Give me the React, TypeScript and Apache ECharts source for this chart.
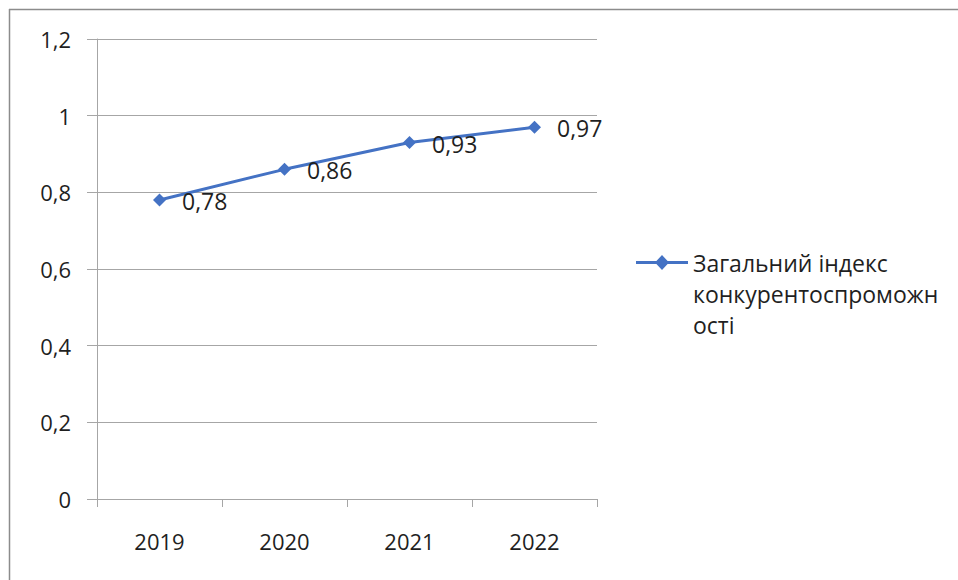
import React, { useEffect, useRef } from "react";
import * as echarts from "echarts";

const years = ["2019", "2020", "2021", "2022"];
const indexValues = [0.78, 0.86, 0.93, 0.97];
const seriesName = "Загальний індекс\nконкурентоспроможн\nості";
const yTicks = { min: 0, max: 1.2, interval: 0.2 };

const BLUE = "#4472C4";
const GRID = "#a6a6a6";
const TEXT = "#1f1f1f";
const FONT = "'Open Sans', 'Noto Sans', sans-serif";

const comma = (v: number) => String(Math.round(v * 100) / 100).replace(".", ",");

// Legend icon: line with a diamond, placed at the height of the first text line
const legendIcon =
  "path://M0 0 M52 93 M0 14 L52 14 L52 17 L0 17 Z M26 8 L33 15.5 L26 23 L19 15.5 Z";

export default function App() {
  const ref = useRef<HTMLDivElement>(null);

  useEffect(() => {
    if (!ref.current) return;
    const chart = echarts.init(ref.current, null, { renderer: "svg" });
    chart.setOption({
      animation: false,
      backgroundColor: "#ffffff",
      textStyle: { fontFamily: FONT },
      grid: { left: 97, top: 39, width: 500, height: 460 },
      graphic: [
        {
          type: "line",
          shape: { x1: 9, y1: 9.5, x2: 958, y2: 9.5 },
          style: { stroke: "#8c8c8c", lineWidth: 1.5 },
        },
        {
          type: "line",
          shape: { x1: 9.5, y1: 9, x2: 9.5, y2: 580 },
          style: { stroke: "#8c8c8c", lineWidth: 1.5 },
        },
      ],
      legend: {
        left: 636,
        top: 247,
        padding: 0,
        orient: "vertical",
        icon: legendIcon,
        itemWidth: 52,
        itemHeight: 93,
        itemStyle: { color: BLUE, borderWidth: 0 },
        textStyle: { fontSize: 23, color: TEXT, lineHeight: 31, fontFamily: FONT },
        data: [seriesName],
      },
      xAxis: {
        type: "category",
        data: years,
        boundaryGap: true,
        axisLine: { show: true, lineStyle: { color: GRID, width: 1 } },
        axisTick: { show: true, length: 8, alignWithLabel: false, lineStyle: { color: GRID } },
        axisLabel: { fontSize: 22, color: TEXT, margin: 31, fontFamily: FONT },
        splitLine: { show: false },
      },
      yAxis: {
        type: "value",
        min: yTicks.min,
        max: yTicks.max,
        interval: yTicks.interval,
        axisLine: { show: true, lineStyle: { color: GRID, width: 1 } },
        axisTick: { show: true, length: 10, inside: false, lineStyle: { color: GRID } },
        axisLabel: {
          fontSize: 22,
          color: TEXT,
          margin: 26,
          fontFamily: FONT,
          formatter: (v: number) => comma(v),
        },
        splitLine: { show: true, lineStyle: { color: GRID, width: 1 } },
      },
      series: [
        {
          name: seriesName,
          type: "line",
          data: indexValues,
          symbol: "diamond",
          symbolSize: 13,
          itemStyle: { color: BLUE },
          lineStyle: { color: BLUE, width: 3 },
          label: {
            show: true,
            position: "right",
            distance: 16,
            offset: [0, 1],
            fontSize: 23,
            color: TEXT,
            fontFamily: FONT,
            formatter: (p: any) => comma(p.value),
          },
        },
      ],
    });
    return () => chart.dispose();
  }, []);

  return (
    <div
      ref={ref}
      style={{ position: "fixed", left: 0, top: 0, width: 958, height: 580 }}
    />
  );
}
